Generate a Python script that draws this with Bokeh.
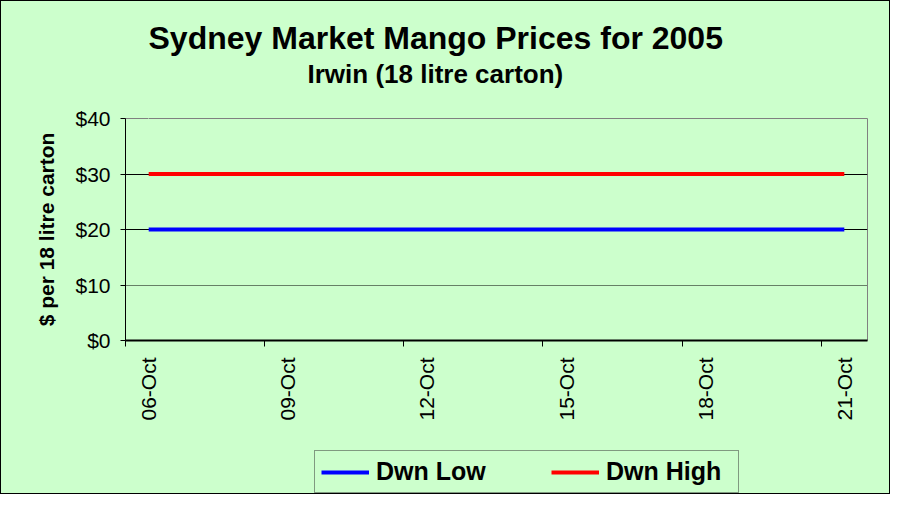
import math
import pandas as pd
from bokeh.plotting import figure
from bokeh.layouts import column
from bokeh.models import (Range1d, FixedTicker, DatetimeTickFormatter, NumeralTickFormatter,
                          Title, Legend, LegendItem, Grid, ColumnDataSource, LinearAxis)
from bokeh.embed import file_html
from bokeh.resources import INLINE

# ---------------- data ----------------
title_text = "Sydney Market Mango Prices for 2005"
subtitle_text = "Irwin (18 litre carton)"
y_label = "$ per 18 litre carton"
series_names = ["Dwn Low", "Dwn High"]
dates = ["2005-10-06", "2005-10-07", "2005-10-10", "2005-10-11", "2005-10-12", "2005-10-13",
         "2005-10-14", "2005-10-17", "2005-10-18", "2005-10-19", "2005-10-20", "2005-10-21"]
dwn_low = [20, 20, 20, 20, 20, 20, 20, 20, 20, 20, 20, 20]
dwn_high = [30, 30, 30, 30, 30, 30, 30, 30, 30, 30, 30, 30]
x_tick_dates = ["2005-10-06", "2005-10-09", "2005-10-12", "2005-10-15", "2005-10-18", "2005-10-21"]
y_ticks = [0, 10, 20, 30, 40]
y_min, y_max = 0, 40

# ---------------- build ----------------
FONT = "Liberation Sans"
GREEN = "#CCFFCC"
LOW_COLOR = "#0000FF"
HIGH_COLOR = "#FF0000"

dt = pd.to_datetime(dates)
src = ColumnDataSource(dict(x=dt, low=dwn_low, high=dwn_high))

half_day = pd.Timedelta(hours=12)
x_start = pd.Timestamp(x_tick_dates[0]) - half_day
x_end = pd.Timestamp(x_tick_dates[-1]) + half_day


def ms(ts):
    return pd.Timestamp(ts).value / 1e6


major = [ms(d) for d in x_tick_dates]
minor = [ms(pd.Timestamp(d) - half_day) for d in x_tick_dates]

W = 888
H_MAIN = 429
H_LEG = 63

p = figure(width=W, height=H_MAIN, output_backend="svg", toolbar_location=None,
           x_axis_type="datetime", title=None,
           x_range=Range1d(x_start, x_end), y_range=Range1d(y_min, y_max),
           min_border_left=124, min_border_right=22, min_border_top=117, min_border_bottom=90)
p.background_fill_color = GREEN
p.border_fill_color = GREEN
p.outline_line_color = "#808080"
p.outline_line_width = 1

xa = p.xaxis[0]
ya = p.yaxis[0]

r_low = p.line("x", "low", source=src, line_color=LOW_COLOR, line_width=4)
r_high = p.line("x", "high", source=src, line_color=HIGH_COLOR, line_width=4)

# x axis (dates)
xa.ticker = FixedTicker(ticks=major, minor_ticks=minor)
fmt = "%d-%b"
xa.formatter = DatetimeTickFormatter(days=fmt, months=fmt, hours=fmt, years=fmt,
                                     minutes=fmt, hourmin=fmt, seconds=fmt)
xa.major_label_orientation = math.pi / 2
xa.major_label_text_font = FONT
xa.major_label_text_font_size = "21px"
xa.major_label_text_color = "#000000"
xa.major_tick_out = 0
xa.major_tick_in = 0
xa.minor_tick_out = 6
xa.minor_tick_in = 0
xa.minor_tick_line_color = "#000000"
xa.axis_line_color = "#000000"
xa.axis_line_width = 2
xa.major_label_standoff = 11

# y axis
ya.ticker = FixedTicker(ticks=y_ticks)
ya.formatter = NumeralTickFormatter(format="$0")
ya.major_label_text_font = FONT
ya.major_label_text_font_size = "21px"
ya.major_label_text_color = "#000000"
ya.major_tick_out = 5
ya.major_tick_in = 0
ya.major_tick_line_color = "#000000"
ya.minor_tick_line_color = None
ya.axis_line_color = "#000000"
ya.major_label_standoff = 10
ya.axis_label = y_label
ya.axis_label_text_font = FONT
ya.axis_label_text_font_size = "21px"
ya.axis_label_text_font_style = "bold"
ya.axis_label_text_color = "#000000"
ya.axis_label_standoff = 14

# grids
p.xgrid.visible = False
p.ygrid.ticker = FixedTicker(ticks=[y_ticks[2], y_ticks[3]])
p.ygrid.grid_line_color = "#000000"
p.ygrid.grid_line_width = 1
g10 = Grid(dimension=1, ticker=FixedTicker(ticks=[y_ticks[1]]), grid_line_color="#000000",
           grid_line_dash="1 1", grid_line_width=1)
p.add_layout(g10)

# titles: a blank spacer axis (tick drawn in background colour, no label),
# then the subtitle, then the main title, stacked upwards from the frame
spacer = LinearAxis(ticker=FixedTicker(ticks=[major[0]]), axis_line_color=None,
                    major_tick_line_color=GREEN, minor_tick_line_color=None,
                    major_tick_out=29, major_tick_in=0, minor_tick_out=0, minor_tick_in=0,
                    major_label_standoff=0, major_label_text_color=None,
                    major_label_text_font_size="1px")
p.add_layout(spacer, "above")
sub = Title(text=subtitle_text, text_font=FONT, text_font_size="26px", text_font_style="bold",
            align="left", offset=182, standoff=2, text_color="#000000")
main = Title(text=title_text, text_font=FONT, text_font_size="32px", text_font_style="bold",
             align="left", offset=23, standoff=0, text_color="#000000")
p.add_layout(sub, "above")
p.add_layout(main, "above")

# legend strip below the chart (frame aligned with the chart frame by the column layout)
p2 = figure(width=W, height=H_LEG, output_backend="svg", toolbar_location=None,
            x_axis_location=None, y_axis_location=None, min_border=0,
            x_range=p.x_range, y_range=Range1d(y_min, y_max))
p2.background_fill_color = GREEN
p2.border_fill_color = GREEN
p2.outline_line_color = None
p2.grid.visible = False
l_low = p2.line("x", "low", source=src, line_color=LOW_COLOR, line_width=4, visible=False)
l_high = p2.line("x", "high", source=src, line_color=HIGH_COLOR, line_width=4, visible=False)

legend = Legend(items=[LegendItem(label=series_names[0], renderers=[l_low]),
                       LegendItem(label=series_names[1], renderers=[l_high])],
                orientation="horizontal", location=(189, 0),
                label_text_font=FONT, label_text_font_size="25px", label_text_font_style="bold",
                label_text_color="#000000", glyph_width=48, glyph_height=20, label_standoff=7,
                label_width=126, spacing=49, padding=6, margin=0,
                border_line_color="#333333", border_line_width=1,
                background_fill_color=GREEN, background_fill_alpha=1.0,
                inactive_fill_alpha=0.0)
p2.add_layout(legend)

layout = column(p, p2, spacing=0)
layout.styles = {"border": "1px solid #000000", "background-color": GREEN}

open("out.html", "w").write(file_html(layout, INLINE))
